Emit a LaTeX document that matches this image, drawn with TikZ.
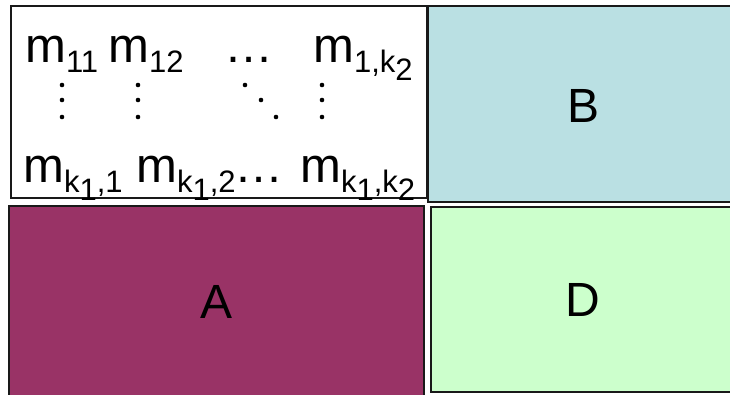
\documentclass[tikz,border=0pt]{standalone}
\usepackage{fontspec}
\setmainfont{Liberation Sans}
\newcommand{\sbs}[1]{\raisebox{-10pt}{\fontsize{31}{31}\selectfont #1}}
\newcommand{\ssbs}[1]{\raisebox{-8pt}{#1}}
\definecolor{cB}{RGB}{186,224,227}
\definecolor{cA}{RGB}{153,51,102}
\definecolor{cD}{RGB}{204,255,204}
\definecolor{edge}{RGB}{25,25,25}
\begin{document}
\begin{tikzpicture}[x=1pt,y=-1pt,
  cell/.style={draw=edge,line width=2pt,rectangle,inner sep=0pt,font=\fontsize{48}{50}\selectfont},
  ent/.style={anchor=base west,inner sep=0pt,font=\fontsize{49}{50}\selectfont},
  dotc/.style={fill=black,draw=none}]
\useasboundingbox (0,0) rectangle (730,394);
\clip (0,0) rectangle (730,394);
\node[cell,fill=white,minimum width=416pt,minimum height=192pt] (M) at (219,102) {};
\node[cell,fill=cB,minimum width=312pt,minimum height=196pt] (B) at (584,104) {};
\node[cell,fill=cA,minimum width=415pt,minimum height=196pt] (A) at (216.5,304) {};
\node[cell,fill=cD,minimum width=312pt,minimum height=185pt] (D) at (587,299.5) {};
\node[anchor=center,inner sep=0pt,font=\fontsize{48}{50}\selectfont] (tB) at (583,106) {B};
\node[anchor=center,inner sep=0pt,font=\fontsize{48}{50}\selectfont] (tA) at (217,302) {A};
\node[anchor=center,inner sep=0pt,font=\fontsize{48}{50}\selectfont] (tD) at (583,300) {D};
% row 1
\node[ent] (m11) at (25,62) {m\sbs{11}};
\node[ent] (m12) at (108,62) {m\sbs{12}};
\node[ent] (h1) at (224,62) {…};
\node[ent] (m1k) at (313,62) {m\sbs{1,k\ssbs{2}}};
% row 3
\node[ent] (mk1) at (23,182) {m\sbs{k\ssbs{1},1}};
\node[ent] (mk2) at (136,182) {m\sbs{k\ssbs{1},2}};
\node[ent] (h3) at (234,182) {…};
\node[ent] (mkk) at (300,182) {m\sbs{k\ssbs{1},k\ssbs{2}}};
% vertical and diagonal dots
\foreach \x in {62,138,322}{
  \foreach \y in {85,100,117}{
    \fill[dotc] (\x,\y) circle (2.3pt);
  }
}
\fill[dotc] (245,85) circle (2.3pt);
\fill[dotc] (261,100) circle (2.3pt);
\fill[dotc] (276,117) circle (2.3pt);
\end{tikzpicture}
\end{document}
